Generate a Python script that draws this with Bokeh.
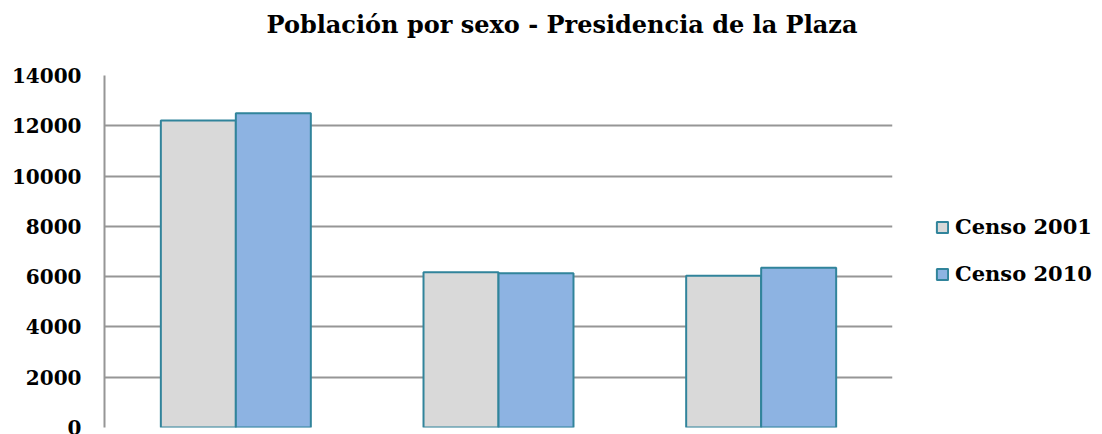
from bokeh.plotting import figure
from bokeh.models import ColumnDataSource, FactorRange, Range1d, FixedTicker, Legend, LegendItem, Label
from bokeh.transform import dodge
from bokeh.embed import file_html
from bokeh.resources import INLINE

categories = ["Total", "Varones", "Mujeres"]
censo_2001 = [12211, 6171, 6040]
censo_2010 = [12499, 6131, 6358]
y_ticks = [0, 2000, 4000, 6000, 8000, 10000, 12000, 14000]

title_text = "Población por sexo - Presidencia de la Plaza"
series_names = ["Censo 2001", "Censo 2010"]

src = ColumnDataSource(dict(cat=categories, c2001=censo_2001, c2010=censo_2010))

FONT = "DejaVu Serif"
GRID = "#969696"
EDGE = "#31849B"

p = figure(frame_width=788, frame_height=352, output_backend="svg", toolbar_location=None,
           x_range=FactorRange(*categories, range_padding=0),
           y_range=Range1d(0, 14000),
           min_border_left=104, min_border_right=208, min_border_top=75, min_border_bottom=7,
           x_axis_location=None)
p.title = None

title = Label(text=title_text, x=162, y=51, x_units="screen", y_units="screen",
              text_font=FONT, text_font_style="bold", text_font_size="24px",
              text_align="left", text_baseline="alphabetic", text_color="#000000")
p.add_layout(title, "above")

bw = 0.2855
r1 = p.vbar(x=dodge("cat", -bw / 2, range=p.x_range), top="c2001", width=bw, source=src,
            fill_color="#D9D9D9", line_color=EDGE, line_width=2)
r2 = p.vbar(x=dodge("cat", bw / 2, range=p.x_range), top="c2010", width=bw, source=src,
            fill_color="#8DB3E2", line_color=EDGE, line_width=2)

p.yaxis.ticker = FixedTicker(ticks=y_ticks)
p.yaxis.major_label_text_font = FONT
p.yaxis.major_label_text_font_style = "bold"
p.yaxis.major_label_text_font_size = "20px"
p.yaxis.major_label_text_color = "#000000"
p.yaxis.major_tick_out = 0
p.yaxis.major_tick_in = 0
p.yaxis.minor_tick_out = 0
p.yaxis.minor_tick_in = 0
p.yaxis.major_label_standoff = 23
p.yaxis.axis_line_color = GRID
p.yaxis.axis_line_width = 2

p.xgrid.visible = False
p.ygrid.ticker = FixedTicker(ticks=y_ticks)
p.ygrid.grid_line_color = GRID
p.ygrid.grid_line_width = 2
p.outline_line_color = None
p.background_fill_color = "white"
p.border_fill_color = "white"

legend = Legend(items=[LegendItem(label=series_names[0], renderers=[r1]),
                       LegendItem(label=series_names[1], renderers=[r2])],
                location=(43, 141), padding=0, margin=0, spacing=22,
                glyph_width=14, glyph_height=14, label_standoff=6,
                label_text_font=FONT, label_text_font_style="bold",
                label_text_font_size="21px", label_text_color="#000000",
                border_line_color=None, background_fill_alpha=0)
p.add_layout(legend, "right")

open("out.html", "w").write(file_html(p, INLINE))
